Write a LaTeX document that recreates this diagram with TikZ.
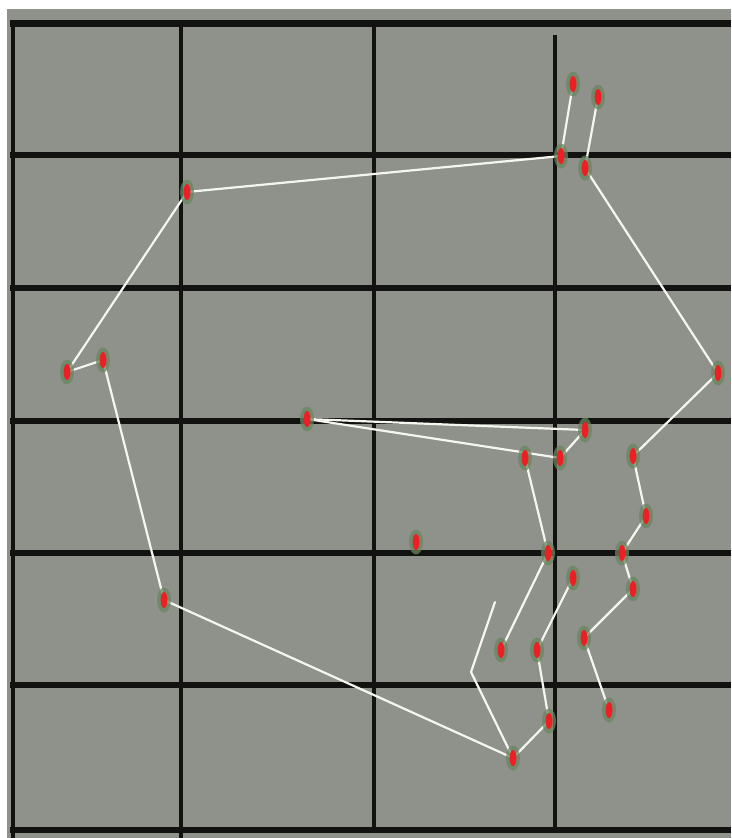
\documentclass[tikz,border=0pt]{standalone}
\usetikzlibrary{shapes.geometric}
\definecolor{panel}{RGB}{143,146,138}
\definecolor{gridc}{RGB}{18,18,16}
\definecolor{halo}{RGB}{104,134,96}
\definecolor{dotred}{RGB}{236,32,36}
\definecolor{linec}{RGB}{246,246,240}
\pgfdeclarelayer{gridlayer}
\pgfdeclarelayer{linelayer}
\pgfsetlayers{gridlayer,linelayer,main}
\tikzset{
  marker/.style={ellipse, minimum width=14pt, minimum height=25pt, inner sep=0pt,
    fill=halo, fill opacity=0.75,
    path picture={\fill[dotred, fill opacity=1] (path picture bounding box.center) ellipse (3.4pt and 8pt);}},
  conn/.style={draw=linec, line width=2.2pt, line cap=round, line join=round},
  hline/.style={draw=gridc, line width=6pt},
  vline/.style={draw=gridc, line width=4.5pt}
}
\begin{document}
\begin{tikzpicture}[x=1pt, y=-1pt]
\useasboundingbox (0,0) rectangle (731,838);
\begin{pgfonlayer}{gridlayer}
  \fill[white] (0,0) rectangle (731,838);
  \fill[panel] (7,9) rectangle (731,838);
  % horizontal grid lines
  \draw[hline, line width=7pt] (10,23.5) -- (731,23.5);
  \draw[hline] (10,155) -- (731,155);
  \draw[hline] (10,288) -- (731,288);
  \draw[hline] (10,421) -- (731,421);
  \draw[hline] (10,553) -- (731,553);
  \draw[hline] (10,685) -- (731,685);
  \draw[hline] (10,830) -- (731,830);
  % vertical grid lines
  \draw[vline] (13,20) -- (13,838);
  \draw[vline] (181,20) -- (181,838);
  \draw[vline] (374,20) -- (374,830);
  \draw[vline] (555,35) -- (555,830);
\end{pgfonlayer}

\node[marker] (m1) at (573,84) {};
\node[marker] (m2) at (598,97) {};
\node[marker] (m3) at (561,156) {};
\node[marker] (m4) at (585,168) {};
\node[marker] (m5) at (187,192) {};
\node[marker] (m6) at (67,372) {};
\node[marker] (m7) at (103,360) {};
\node[marker] (m8) at (718,373) {};
\node[marker] (m9) at (307,419) {};
\node[marker] (m10) at (585,430) {};
\node[marker] (m11) at (525,458) {};
\node[marker] (m12) at (560,458) {};
\node[marker] (m13) at (633,456) {};
\node[marker] (m14) at (646,516) {};
\node[marker] (m15) at (416,542) {};
\node[marker] (m16) at (548,553) {};
\node[marker] (m17) at (622,553) {};
\node[marker] (m18) at (573,578) {};
\node[marker] (m19) at (633,589) {};
\node[marker] (m20) at (164,600) {};
\node[marker] (m21) at (501,650) {};
\node[marker] (m22) at (537,650) {};
\node[marker] (m23) at (584,638) {};
\node[marker] (m24) at (549,721) {};
\node[marker] (m25) at (609,710) {};
\node[marker] (m26) at (513,758) {};
\coordinate (f1) at (471,672);
\coordinate (f2) at (495,602);

\begin{pgfonlayer}{linelayer}
  \draw[conn] (m1.center) -- (m3.center) -- (m5.center) -- (m6.center) -- (m7.center)
    -- (m20.center) -- (m26.center) -- (m24.center) -- (m22.center) -- (m18.center);
  \draw[conn] (m2.center) -- (m4.center) -- (m8.center) -- (m13.center) -- (m14.center)
    -- (m17.center) -- (m19.center) -- (m23.center) -- (m25.center);
  \draw[conn] (m9.center) -- (m10.center);
  \draw[conn] (m9.center) -- (m12.center) -- (m10.center);
  \draw[conn] (m11.center) -- (m16.center) -- (m21.center);
  \draw[conn] (m26.center) -- (f1) -- (f2);
\end{pgfonlayer}
\end{tikzpicture}
\end{document}
